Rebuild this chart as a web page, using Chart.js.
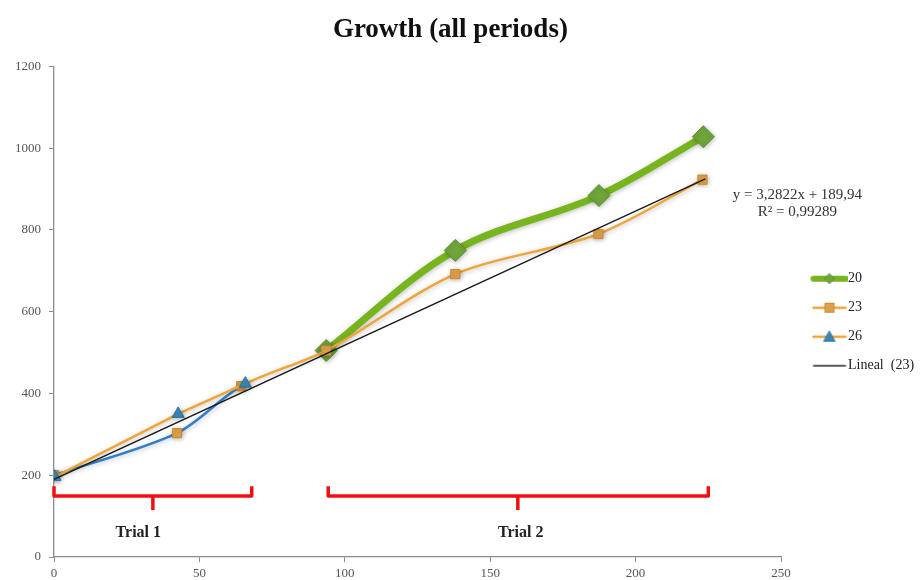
<!DOCTYPE html>
<html>
<head>
<meta charset="utf-8">
<script src="https://cdn.jsdelivr.net/npm/chart.js@4.4.1/dist/chart.umd.min.js"></script>
<style>
  html, body { margin: 0; padding: 0; background: #fff; }
  #wrap { width: 921px; height: 580px; }
</style>
</head>
<body>
<div id="wrap"><canvas id="growthChart" width="921" height="580"></canvas></div>
<script>
// ---- data ----
const x20 = [93.6, 138, 187.4, 223.3];
const y20 = [505, 750, 884, 1028];

const x23 = [0, 42.3, 64.4, 93.6, 138, 187.2, 223];
const y23 = [200, 303, 418, 505, 692, 790, 923];

const x26 = [0.3, 42.7, 65.8];
const y26 = [196, 350, 424];

// trend line "Lineal (23)" end points
const xTrend = [0, 224];
const yTrend = [190, 925];
const trendText = ['y = 3,2822x + 189,94', 'R² = 0,99289'];

const xTicks = [0, 50, 100, 150, 200, 250];
const yTicks = [0, 200, 400, 600, 800, 1000, 1200];

// brackets below the curves
const trials = [
  { from: 0, to: 68, mid: 34, label: 'Trial 1', labelX: 29 },
  { from: 94.3, to: 225, mid: 159.5, label: 'Trial 2', labelX: 160.5 }
];

const toPts = (xs, ys) => xs.map((x, i) => ({ x: x, y: ys[i] }));

const GREEN = '#78b41e';
const ORANGE = '#eea53a';
const BLUE = '#2f7fc9';
const SERIF = '"Liberation Serif", "DejaVu Serif", serif';

// legend swatches: line with the marker in the middle
// (canvas is wider than the line so the text lands where it should)
function swatch(lineColor, lineWidth, marker) {
  const c = document.createElement('canvas');
  c.width = 58; c.height = 16;
  const g = c.getContext('2d');
  const x0 = 24, x1 = 56, mx = 40;
  g.strokeStyle = lineColor;
  g.lineWidth = lineWidth;
  g.lineCap = 'round';
  g.beginPath(); g.moveTo(x0, 8); g.lineTo(x1, 8); g.stroke();
  if (marker === 'diamond') {
    g.fillStyle = '#6fa53a'; g.strokeStyle = '#5b8f2c'; g.lineWidth = 1;
    g.beginPath(); g.moveTo(mx, 3); g.lineTo(mx + 5, 8); g.lineTo(mx, 13); g.lineTo(mx - 5, 8); g.closePath();
    g.fill(); g.stroke();
  } else if (marker === 'square') {
    g.fillStyle = '#dfa04c'; g.strokeStyle = '#c98a2e'; g.lineWidth = 1;
    g.fillRect(mx - 4.5, 3.5, 9, 9); g.strokeRect(mx - 4.5, 3.5, 9, 9);
  } else if (marker === 'triangle') {
    g.fillStyle = '#3a87b8'; g.strokeStyle = '#2d6f95'; g.lineWidth = 1;
    g.beginPath(); g.moveTo(mx, 2.5); g.lineTo(mx + 5.5, 12.5); g.lineTo(mx - 5.5, 12.5); g.closePath();
    g.fill(); g.stroke();
  }
  return c;
}

const legendIcons = [
  swatch(GREEN, 6, 'diamond'),
  swatch(ORANGE, 2.5, 'square'),
  swatch(ORANGE, 2.5, 'triangle'),
  swatch('#222', 1.3, null)
];

// red brackets, trial labels and the trend equation
const annotations = {
  id: 'annotations',
  afterDatasetsDraw(chart) {
    const { ctx, scales: { x, y } } = chart;
    ctx.save();
    ctx.strokeStyle = '#f01010';
    ctx.lineWidth = 3.5;
    ctx.lineJoin = 'round';
    const yLine = y.getPixelForValue(149);
    const yTop = y.getPixelForValue(173);
    const yBottom = y.getPixelForValue(115);
    trials.forEach(t => {
      const x0 = x.getPixelForValue(t.from);
      const x1 = x.getPixelForValue(t.to);
      const xm = x.getPixelForValue(t.mid);
      ctx.beginPath();
      ctx.moveTo(x0, yTop); ctx.lineTo(x0, yLine); ctx.lineTo(x1, yLine); ctx.lineTo(x1, yTop);
      ctx.moveTo(xm, yLine); ctx.lineTo(xm, yBottom);
      ctx.stroke();
      ctx.fillStyle = '#222';
      ctx.font = 'bold 16px ' + SERIF;
      ctx.textAlign = 'center';
      ctx.textBaseline = 'middle';
      ctx.fillText(t.label, x.getPixelForValue(t.labelX), y.getPixelForValue(58));
    });
    // equation next to the trend end
    const ex = x.getPixelForValue(xTrend[1]) + 92;
    const ey = y.getPixelForValue(yTrend[1]) + 16;
    ctx.fillStyle = '#333';
    ctx.font = '15px ' + SERIF;
    ctx.textAlign = 'center';
    ctx.fillText(trendText[0], ex, ey);
    ctx.fillText(trendText[1], ex, ey + 17);
    ctx.restore();
  }
};

// soft shadow under markers, like the original
const markerShadow = {
  id: 'markerShadow',
  beforeDatasetDraw(chart, args) {
    if (args.index === 3) return;
    chart.ctx.save();
    chart.ctx.shadowColor = 'rgba(0,0,0,0.25)';
    chart.ctx.shadowBlur = 5;
    chart.ctx.shadowOffsetX = 1;
    chart.ctx.shadowOffsetY = 1;
  },
  afterDatasetDraw(chart, args) {
    if (args.index === 3) return;
    chart.ctx.restore();
  }
};

new Chart(document.getElementById('growthChart'), {
  type: 'line',
  data: {
    datasets: [
      {
        label: '20',
        data: toPts(x20, y20),
        borderColor: GREEN,
        borderWidth: 7,
        tension: 0.35,
        pointStyle: 'rectRot',
        pointRadius: 11,
        pointBackgroundColor: '#6fa53a',
        pointBorderColor: '#5b8f2c',
        pointBorderWidth: 1,
        order: 4
      },
      {
        label: '23',
        data: toPts(x23, y23),
        borderColor: ORANGE,
        borderWidth: 2.5,
        tension: 0.3,
        segment: {
          borderColor: c => (c.p1DataIndex <= 2 ? BLUE : ORANGE)
        },
        pointStyle: 'rect',
        pointRadius: 6.5,
        pointBackgroundColor: '#dfa04c',
        pointBorderColor: '#c98a2e',
        pointBorderWidth: 1,
        order: 3
      },
      {
        label: '26',
        data: toPts(x26, y26),
        borderColor: ORANGE,
        borderWidth: 2.5,
        tension: 0,
        pointStyle: 'triangle',
        pointRadius: 7,
        pointBackgroundColor: '#3a87b8',
        pointBorderColor: '#2d6f95',
        pointBorderWidth: 1,
        order: 2
      },
      {
        label: 'Lineal  (23)',
        data: toPts(xTrend, yTrend),
        borderColor: '#1a1a1a',
        borderWidth: 1.3,
        pointRadius: 0,
        tension: 0,
        order: 1
      }
    ]
  },
  options: {
    responsive: false,
    animation: false,
    events: [],
    plugins: {
      title: {
        display: true,
        text: 'Growth (all periods)   ',
        color: '#111',
        font: { family: SERIF, size: 27, weight: 'bold' },
        padding: { top: 14, bottom: 20 }
      },
      legend: {
        position: 'right',
        align: 'center',
        maxWidth: 140,
        title: { display: true, text: '', padding: { top: 50, bottom: 0 } },
        labels: {
          color: '#222',
          font: { family: SERIF, size: 14 },
          usePointStyle: true,
          pointStyleWidth: 45,
          padding: 15,
          sort: (a, b) => a.datasetIndex - b.datasetIndex,
          generateLabels: chart => chart.data.datasets.map((ds, i) => ({
            text: ds.label,
            datasetIndex: i,
            pointStyle: legendIcons[i],
            fontColor: '#222',
            lineWidth: 0,
            hidden: false
          }))
        }
      },
      tooltip: { enabled: false }
    },
    scales: {
      x: {
        type: 'linear',
        min: 0,
        max: 250,
        afterBuildTicks: s => { s.ticks = xTicks.map(v => ({ value: v })); },
        afterFit: s => { s.height = 23; },
        ticks: { color: '#555', font: { family: SERIF, size: 13 }, padding: 4, callback: v => String(v) },
        grid: { drawOnChartArea: false, drawTicks: true, tickLength: 5, color: '#8c8c8c' },
        border: { color: '#8c8c8c', width: 1.3 }
      },
      y: {
        min: 0,
        max: 1200,
        afterBuildTicks: s => { s.ticks = yTicks.map(v => ({ value: v })); },
        afterFit: s => { s.width = 54; },
        ticks: { color: '#555', font: { family: SERIF, size: 13 }, padding: 8, callback: v => String(v) },
        grid: { drawOnChartArea: false, drawTicks: true, tickLength: 5, color: '#8c8c8c' },
        border: { color: '#8c8c8c', width: 1.3 }
      }
    }
  },
  plugins: [markerShadow, annotations]
});
</script>
</body>
</html>
